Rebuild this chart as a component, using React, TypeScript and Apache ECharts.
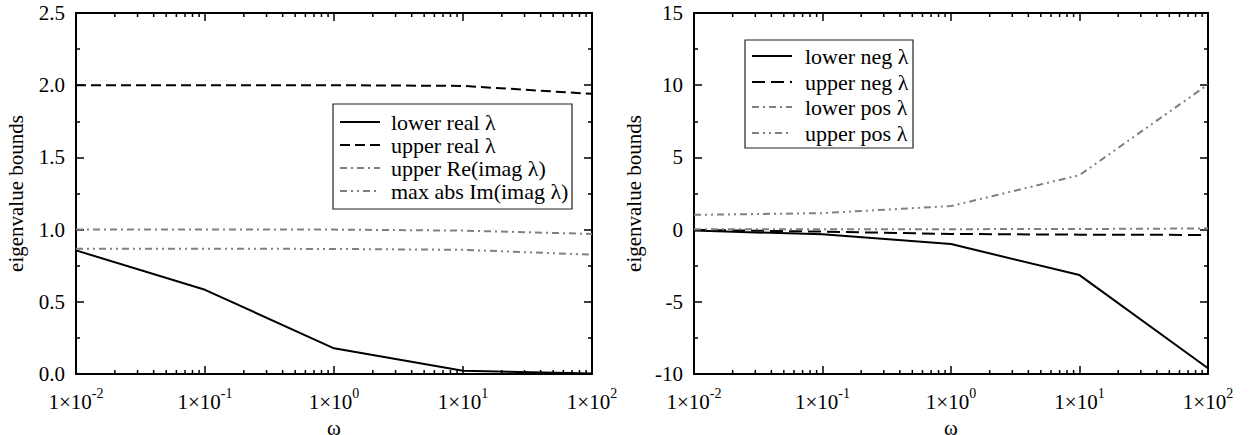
import React, { useEffect, useRef } from "react";
import * as echarts from "echarts";

// ---- data ----
const omega = [0.01, 0.1, 1, 10, 100];

// left panel
const lowerReal = [0.856, 0.583, 0.178, 0.023, 0.004];
const upperReal = [2.0, 2.0, 2.0, 1.995, 1.94];
const upperReImag = [1.0, 1.0, 1.0, 0.993, 0.97];
const maxAbsImImag = [0.868, 0.868, 0.866, 0.86, 0.826];

// right panel
const lowerNeg = [-0.07, -0.33, -1.0, -3.15, -9.6];
const upperNeg = [-0.02, -0.14, -0.3, -0.35, -0.37];
const lowerPos = [0.02, 0.02, 0.03, 0.04, 0.08];
const upperPos = [1.02, 1.14, 1.63, 3.77, 10.05];

const leftNames = ["lower real λ", "upper real λ", "upper Re(imag λ)", "max abs Im(imag λ)"];
const rightNames = ["lower neg λ", "upper neg λ", "lower pos λ", "upper pos λ"];

const FONT = "Liberation Serif";
const GRAY = "#808080";

const SOLID = { color: "#000", width: 2, type: "solid" as any };
const DASH = { color: "#000", width: 2, type: [10, 5] as any };
const LONGDASH = { color: "#000", width: 2, type: [13, 6] as any };
const DASHDOT = { color: GRAY, width: 2, type: [7, 4, 2, 4] as any };
const DASHDOTDOT = { color: GRAY, width: 2, type: [7, 4, 2, 4, 2, 4] as any };

const leftStyles = [SOLID, DASH, DASHDOT, DASHDOTDOT];
const rightStyles = [SOLID, LONGDASH, DASHDOT, DASHDOTDOT];
const leftData = [lowerReal, upperReal, upperReImag, maxAbsImImag];
const rightData = [lowerNeg, upperNeg, lowerPos, upperPos];

// minor log tick positions (2..9 per decade)
const minorX: number[] = [];
[-2, -1, 0, 1].forEach((d) => {
  for (let k = 2; k <= 9; k++) minorX.push(k * Math.pow(10, d));
});

const grids = [
  { left: 76, top: 13, width: 516, height: 361, containLabel: false, outerBoundsMode: "none" },
  { left: 694, top: 13, width: 514, height: 361, containLabel: false, outerBoundsMode: "none" },
];

function xAxes(gridIndex: number) {
  const base = {
    type: "log" as const,
    logBase: 10,
    min: 0.01,
    max: 100,
    gridIndex,
    splitLine: { show: false },
  };
  return [
    {
      ...base,
      position: "bottom",
      name: "ω",
      nameLocation: "middle",
      nameGap: 32,
      nameTextStyle: { fontFamily: FONT, fontSize: 21, color: "#000" },
      axisLine: { show: true, onZero: false, lineStyle: { color: "#000", width: 2 } },
      axisTick: { show: true, inside: true, length: 8, lineStyle: { color: "#000", width: 1.5 } },
      axisLabel: {
        margin: 12,
        fontFamily: FONT,
        formatter: (v: number) => {
          const n = Math.round(Math.log10(v));
          return `{b|1×10}{s|${n}}`;
        },
        rich: {
          b: { fontFamily: FONT, fontSize: 21, color: "#000", lineHeight: 32 },
          s: { fontFamily: FONT, fontSize: 14, color: "#000", lineHeight: 14, verticalAlign: "top" },
        },
      },
    },
    {
      ...base,
      position: "top",
      axisLine: { show: true, onZero: false, lineStyle: { color: "#000", width: 2 } },
      axisTick: { show: true, inside: true, length: 8, lineStyle: { color: "#000", width: 1.5 } },
      axisLabel: { show: false },
    },
  ];
}

function yAxes(gridIndex: number, min: number, max: number, interval: number, fmt: (v: number) => string) {
  const base = {
    type: "value" as const,
    gridIndex,
    min,
    max,
    interval,
    splitLine: { show: false },
    axisLine: { show: true, onZero: false, lineStyle: { color: "#000", width: 2 } },
    axisTick: { show: true, inside: true, length: 8, lineStyle: { color: "#000", width: 1.5 } },
    minorTick: { show: true, splitNumber: 2, length: 4, lineStyle: { color: "#000", width: 1.5 } },
  };
  return [
    {
      ...base,
      position: "left",
      name: "eigenvalue bounds",
      nameLocation: "middle",
      nameGap: 50,
      nameRotate: 90,
      nameTextStyle: { fontFamily: FONT, fontSize: 21, color: "#000" },
      axisLabel: { margin: 11, formatter: fmt, fontFamily: FONT, fontSize: 21, color: "#000" },
    },
    {
      ...base,
      position: "right",
      axisLabel: { show: false },
    },
  ];
}

function minorTickSeries(xAxisIndex: number, yAxisIndex: number, ymin: number, ymax: number) {
  return {
    type: "custom",
    xAxisIndex,
    yAxisIndex,
    silent: true,
    clip: false,
    data: minorX.map((x) => [x, ymin]),
    renderItem: (params: any, api: any) => {
      const x = api.value(0);
      const pb = api.coord([x, ymin]);
      const pt = api.coord([x, ymax]);
      const st = { stroke: "#000", lineWidth: 1.5 };
      return {
        type: "group",
        children: [
          { type: "line", shape: { x1: pb[0], y1: pb[1], x2: pb[0], y2: pb[1] - 4 }, style: st },
          { type: "line", shape: { x1: pt[0], y1: pt[1], x2: pt[0], y2: pt[1] + 4 }, style: st },
        ],
      };
    },
    z: 3,
  };
}

function legendGraphic(
  names: string[],
  styles: any[],
  box: { x: number; y: number; w: number; h: number },
  ys: number[],
  lx1: number,
  lx2: number,
  tx: number
) {
  const els: any[] = [
    {
      type: "rect",
      shape: { x: box.x, y: box.y, width: box.w, height: box.h },
      style: { fill: "#fff", stroke: "#222", lineWidth: 1.2 },
      z: 100,
    },
  ];
  names.forEach((n, i) => {
    const st = styles[i];
    els.push({
      type: "line",
      shape: { x1: lx1, y1: ys[i], x2: lx2, y2: ys[i] },
      style: {
        stroke: st.color,
        lineWidth: st.width,
        lineDash: Array.isArray(st.type) ? st.type : null,
      },
      z: 101,
    });
    els.push({
      type: "text",
      x: tx,
      y: ys[i],
      style: {
        text: n,
        fontFamily: FONT,
        fontSize: 22,
        fill: "#000",
        verticalAlign: "middle",
        align: "left",
      },
      z: 101,
    });
  });
  return els;
}

export default function App() {
  const ref = useRef<HTMLDivElement>(null);
  useEffect(() => {
    if (!ref.current) return;
    const chart = echarts.init(ref.current, undefined, { renderer: "svg" });
    const series: any[] = [];
    leftData.forEach((d, i) => {
      series.push({
        type: "line",
        name: leftNames[i],
        xAxisIndex: 0,
        yAxisIndex: 0,
        data: omega.map((x, j) => [x, d[j]]),
        showSymbol: false,
        symbol: "none",
        lineStyle: leftStyles[i],
        z: 5,
      });
    });
    rightData.forEach((d, i) => {
      series.push({
        type: "line",
        name: rightNames[i],
        xAxisIndex: 2,
        yAxisIndex: 2,
        data: omega.map((x, j) => [x, d[j]]),
        showSymbol: false,
        symbol: "none",
        lineStyle: rightStyles[i],
        z: 5,
      });
    });
    series.push(minorTickSeries(0, 0, 0, 2.5));
    series.push(minorTickSeries(2, 2, -10, 15));
    chart.setOption({
      animation: false,
      backgroundColor: "#fff",
      textStyle: { fontFamily: FONT },
      grid: grids,
      xAxis: [...xAxes(0), ...xAxes(1)],
      yAxis: [
        ...yAxes(0, 0, 2.5, 0.5, (v) => v.toFixed(1)),
        ...yAxes(1, -10, 15, 5, (v) => String(Math.round(v))),
      ],
      series,
      graphic: [
        ...legendGraphic(leftNames, leftStyles, { x: 333, y: 104, w: 239, h: 105 }, [122, 145, 168, 191], 340, 380, 391),
        ...legendGraphic(rightNames, rightStyles, { x: 745, y: 40, w: 168, h: 108 }, [56, 82, 107, 133], 752, 792, 805),
      ],
    });
    return () => chart.dispose();
  }, []);
  return (
    <div
      ref={ref}
      style={{ position: "absolute", left: 0, top: 0, width: 1249, height: 435 }}
    />
  );
}
